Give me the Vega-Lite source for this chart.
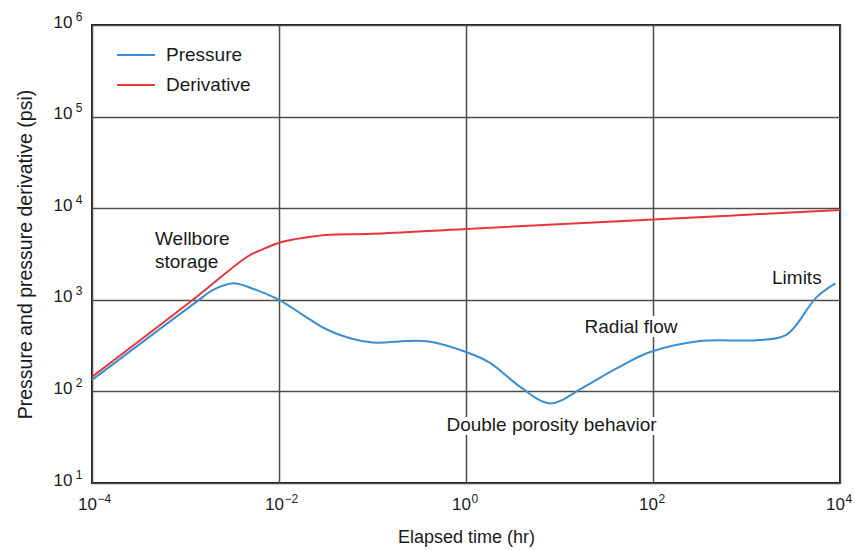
{
  "$schema": "https://vega.github.io/schema/vega-lite/v6.json",
  "width": 748,
  "height": 458,
  "autosize": {"type": "none"},
  "padding": {"left": 92, "top": 25, "right": 15, "bottom": 67},
  "background": "white",
  "config": {
    "view": {"stroke": "#1a1a1a", "strokeWidth": 2},
    "font": "Liberation Sans",
    "axis": {
      "domain": false,
      "ticks": false,
      "labelFlush": false,
      "labelOverlap": false,
      "labelFont": "Liberation Sans",
      "labelColor": "#1a1a1a",
      "titleFont": "Liberation Sans",
      "titleFontWeight": "normal",
      "titleColor": "#1a1a1a",
      "gridColor": "#4d4d4d",
      "gridWidth": 1.5
    }
  },
  "resolve": {"axis": {"x": "independent", "y": "independent"}},
  "datasets": {
    "curves": [
      {"t": 0.0001, "v": 133, "series": "Pressure"},
      {"t": 0.001318, "v": 955, "series": "Pressure"},
      {"t": 0.002, "v": 1290, "series": "Pressure"},
      {"t": 0.00324, "v": 1514, "series": "Pressure"},
      {"t": 0.0056, "v": 1290, "series": "Pressure"},
      {"t": 0.01, "v": 1000, "series": "Pressure"},
      {"t": 0.0178, "v": 690, "series": "Pressure"},
      {"t": 0.0316, "v": 480, "series": "Pressure"},
      {"t": 0.0575, "v": 380, "series": "Pressure"},
      {"t": 0.1, "v": 342, "series": "Pressure"},
      {"t": 0.38, "v": 352, "series": "Pressure"},
      {"t": 1, "v": 269, "series": "Pressure"},
      {"t": 1.82, "v": 204, "series": "Pressure"},
      {"t": 3.8, "v": 112, "series": "Pressure"},
      {"t": 7.94, "v": 74, "series": "Pressure"},
      {"t": 17.8, "v": 110, "series": "Pressure"},
      {"t": 40.7, "v": 178, "series": "Pressure"},
      {"t": 93.3, "v": 269, "series": "Pressure"},
      {"t": 316, "v": 355, "series": "Pressure"},
      {"t": 1380, "v": 363, "series": "Pressure"},
      {"t": 2690, "v": 417, "series": "Pressure"},
      {"t": 5620, "v": 1070, "series": "Pressure"},
      {"t": 8910, "v": 1514, "series": "Pressure"},
      {"t": 0.0001, "v": 144, "series": "Derivative"},
      {"t": 0.0012, "v": 1000, "series": "Derivative"},
      {"t": 0.00457, "v": 2950, "series": "Derivative"},
      {"t": 0.00631, "v": 3470, "series": "Derivative"},
      {"t": 0.0107, "v": 4270, "series": "Derivative"},
      {"t": 0.02, "v": 4810, "series": "Derivative"},
      {"t": 0.0324, "v": 5100, "series": "Derivative"},
      {"t": 0.1, "v": 5250, "series": "Derivative"},
      {"t": 1, "v": 5930, "series": "Derivative"},
      {"t": 100, "v": 7530, "series": "Derivative"},
      {"t": 10000, "v": 9550, "series": "Derivative"}
    ],
    "leftNotes": [
      {"t": 0.000472, "v": 4613, "label": "Wellbore"},
      {"t": 0.000472, "v": 2590, "label": "storage"},
      {"t": 1875, "v": 1730, "label": "Limits"}
    ],
    "centerNotes": [
      {"t": 58.2, "v": 505, "label": "Radial flow"},
      {"t": 8.22, "v": 42.9, "label": "Double porosity behavior"}
    ]
  },
  "layer": [
    {
      "data": {"name": "curves"},
      "mark": {"type": "line", "interpolate": "catmull-rom", "strokeWidth": 2},
      "encoding": {
        "x": {
          "field": "t", "type": "quantitative",
          "scale": {"type": "log", "domain": [0.0001, 10000]},
          "axis": {
            "orient": "bottom",
            "values": [0.0001, 0.01, 1, 100, 10000],
            "grid": true,
            "title": "Elapsed time (hr)",
            "titleFontSize": 18,
            "labelExpr": "'10'",
            "labelFontSize": 17,
            "labelOffset": -5,
            "labelPadding": 13,
            "titlePadding": 16
          }
        },
        "y": {
          "field": "v", "type": "quantitative",
          "scale": {"type": "log", "domain": [10, 1000000]},
          "axis": {
            "orient": "left",
            "values": [10, 100, 1000, 10000, 100000, 1000000],
            "grid": true,
            "title": "Pressure and pressure derivative (psi)",
            "titleFontSize": 19.5,
            "labelExpr": "'10'",
            "labelFontSize": 17,
            "labelBaseline": "alphabetic",
            "labelOffset": 2,
            "labelPadding": 20,
            "titlePadding": 18
          }
        },
        "color": {
          "field": "series", "type": "nominal",
          "scale": {"domain": ["Pressure", "Derivative"], "range": ["#3b8fd1", "#e8343c"]},
          "legend": {
            "title": null,
            "orient": "none",
            "legendX": 24,
            "legendY": 10,
            "padding": 0,
            "symbolType": "stroke",
            "symbolSize": 1444,
            "symbolStrokeWidth": 2,
            "labelFont": "Liberation Sans",
            "labelFontSize": 19,
            "labelColor": "#1a1a1a",
            "labelOffset": 10,
            "rowPadding": -1
          }
        }
      }
    },
    {
      "data": {"name": "leftNotes"},
      "mark": {"type": "text", "align": "left", "baseline": "middle", "fontSize": 19, "font": "Liberation Sans", "color": "#1a1a1a"},
      "encoding": {
        "x": {
          "field": "t", "type": "quantitative",
          "axis": {
            "orient": "bottom",
            "values": [0.0001, 0.01, 1, 100, 10000],
            "grid": false,
            "title": null,
            "labelExpr": "datum.value < 0.001 ? '−4' : datum.value < 0.1 ? '−2' : datum.value < 10 ? '0' : datum.value < 1000 ? '2' : '4'",
            "labelFontSize": 12,
            "labelAlign": "left",
            "labelOffset": 5,
            "labelPadding": 10
          }
        },
        "y": {
          "field": "v", "type": "quantitative",
          "axis": {
            "orient": "left",
            "values": [10, 100, 1000, 10000, 100000, 1000000],
            "grid": false,
            "title": null,
            "labelExpr": "datum.value < 50 ? '1' : datum.value < 500 ? '2' : datum.value < 5000 ? '3' : datum.value < 50000 ? '4' : datum.value < 500000 ? '5' : '6'",
            "labelFontSize": 12,
            "labelAlign": "right",
            "labelBaseline": "alphabetic",
            "labelOffset": -5,
            "labelPadding": 10
          }
        },
        "text": {"field": "label"}
      }
    },
    {
      "data": {"name": "centerNotes"},
      "mark": {"type": "text", "align": "center", "baseline": "middle", "fontSize": 19, "font": "Liberation Sans", "color": "white", "stroke": "white", "strokeWidth": 8},
      "encoding": {
        "x": {"field": "t", "type": "quantitative", "axis": null},
        "y": {"field": "v", "type": "quantitative", "axis": null},
        "text": {"field": "label"}
      }
    },
    {
      "data": {"name": "centerNotes"},
      "mark": {"type": "text", "align": "center", "baseline": "middle", "fontSize": 19, "font": "Liberation Sans", "color": "#1a1a1a"},
      "encoding": {
        "x": {"field": "t", "type": "quantitative", "axis": null},
        "y": {"field": "v", "type": "quantitative", "axis": null},
        "text": {"field": "label"}
      }
    }
  ]
}
